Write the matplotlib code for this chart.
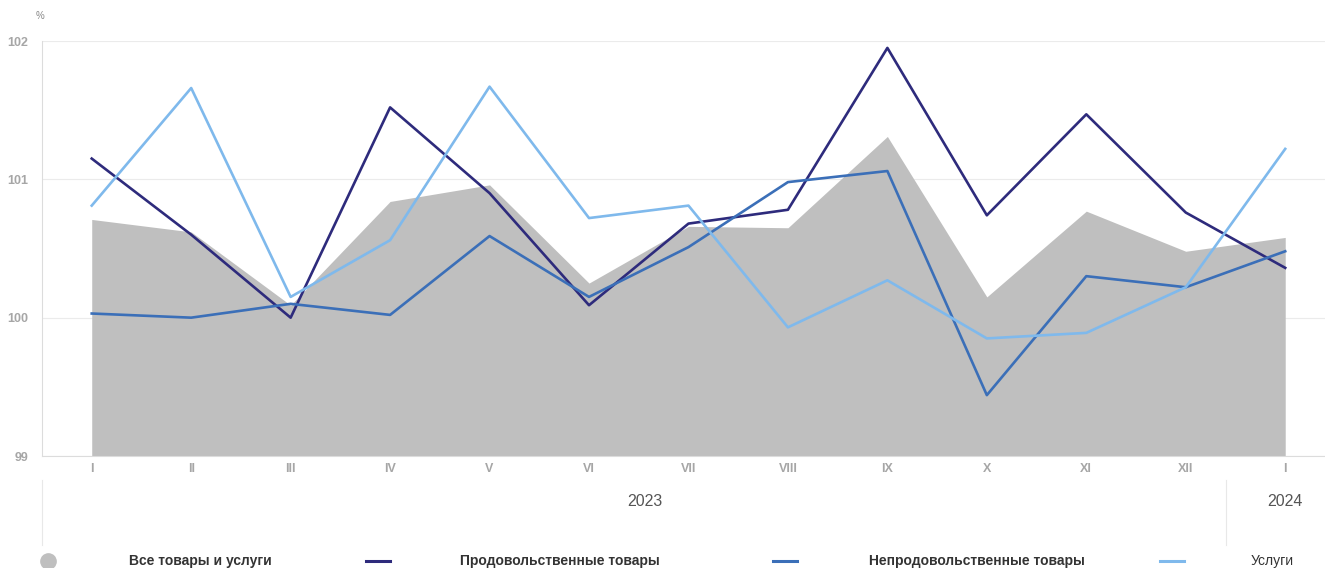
import numpy as np
import matplotlib.pyplot as plt
from matplotlib.lines import Line2D

plt.rcParams['font.family'] = ['Liberation Sans', 'DejaVu Sans']

# Monthly price indices, % to previous month
months = ['I', 'II', 'III', 'IV', 'V', 'VI', 'VII', 'VIII', 'IX', 'X', 'XI', 'XII', 'I']
all_goods = [100.71, 100.62, 100.09, 100.84, 100.96, 100.25, 100.66, 100.65, 101.31, 100.15, 100.77, 100.48, 100.58]
food = [101.15, 100.60, 100.00, 101.52, 100.90, 100.09, 100.68, 100.78, 101.95, 100.74, 101.47, 100.76, 100.36]
non_food = [100.03, 100.00, 100.10, 100.02, 100.59, 100.15, 100.51, 100.98, 101.06, 99.44, 100.30, 100.22, 100.48]
services = [100.81, 101.66, 100.15, 100.56, 101.67, 100.72, 100.81, 99.93, 100.27, 99.85, 99.89, 100.22, 101.22]
years = ['2023', '2024']
labels = ['Все товары и услуги', 'Продовольственные товары',
          'Непродовольственные товары', 'Услуги']

c_all = '#bfbfbf'
c_food = '#2e2b7c'
c_nonfood = '#3b6fb8'
c_serv = '#7fb9ec'

fig = plt.figure(figsize=(13.25, 5.68), dpi=100)
ax = fig.add_axes([42 / 1325, 1 - 456 / 568, 1 - 42 / 1325, 415 / 568])

x = np.arange(len(months))
ax.fill_between(x, 99, all_goods, color=c_all, lw=0, zorder=1)
ax.plot(x, food, color=c_food, lw=1.9, zorder=3)
ax.plot(x, non_food, color=c_nonfood, lw=1.9, zorder=3)
ax.plot(x, services, color=c_serv, lw=1.9, zorder=3)

ax.set_xlim(-0.5, 12.4)
ax.set_ylim(99, 102)
ax.set_yticks([99, 100, 101, 102])
ax.set_xticks(x)
ax.set_xticklabels(months)
ax.tick_params(axis='both', length=0, labelsize=9, labelcolor='#a6a6a6')
ax.tick_params(axis='x', pad=5)
ax.tick_params(axis='y', pad=10)
for lab in ax.get_xticklabels() + ax.get_yticklabels():
    lab.set_fontweight('bold')
ax.grid(axis='y', color='#ebebeb', lw=0.8, zorder=0)
ax.set_axisbelow(True)
for s in ['top', 'right']:
    ax.spines[s].set_visible(False)
for s in ['left', 'bottom']:
    ax.spines[s].set_color('#dcdcdc')
    ax.spines[s].set_linewidth(0.8)

fig.text(40 / 1325, 1 - 16 / 568, '%', fontsize=7, color='#888888',
         ha='center', va='center')

# year band below the axis
for xp in [42, 1226]:
    fig.add_artist(Line2D([xp / 1325, xp / 1325], [1 - 480 / 568, 1 - 545 / 568],
                          color='#e8e8e8', lw=0.8))
fig.text(645 / 1325, 1 - 501 / 568, years[0], fontsize=11.5, color='#555555',
         ha='center', va='center')
fig.text(1285 / 1325, 1 - 501 / 568, years[1], fontsize=11.5, color='#555555',
         ha='center', va='center')

# legend row
ly = 1 - 561 / 568
fig.add_artist(Line2D([48 / 1325], [ly], marker='o', markersize=11,
                      color=c_all, lw=0))
for xs, c in [(378, c_food), (785, c_nonfood), (1172, c_serv)]:
    fig.add_artist(Line2D([(xs - 12) / 1325, (xs + 12) / 1325], [ly, ly],
                          color=c, lw=2.2))
weights = ['bold', 'bold', 'bold', 'normal']
for xt, t, w in zip([200, 560, 977, 1272], labels, weights):
    fig.text(xt / 1325, ly, t, fontsize=10, fontweight=w, color='#333333',
             ha='center', va='center')

fig.savefig('out.png', dpi=100)
